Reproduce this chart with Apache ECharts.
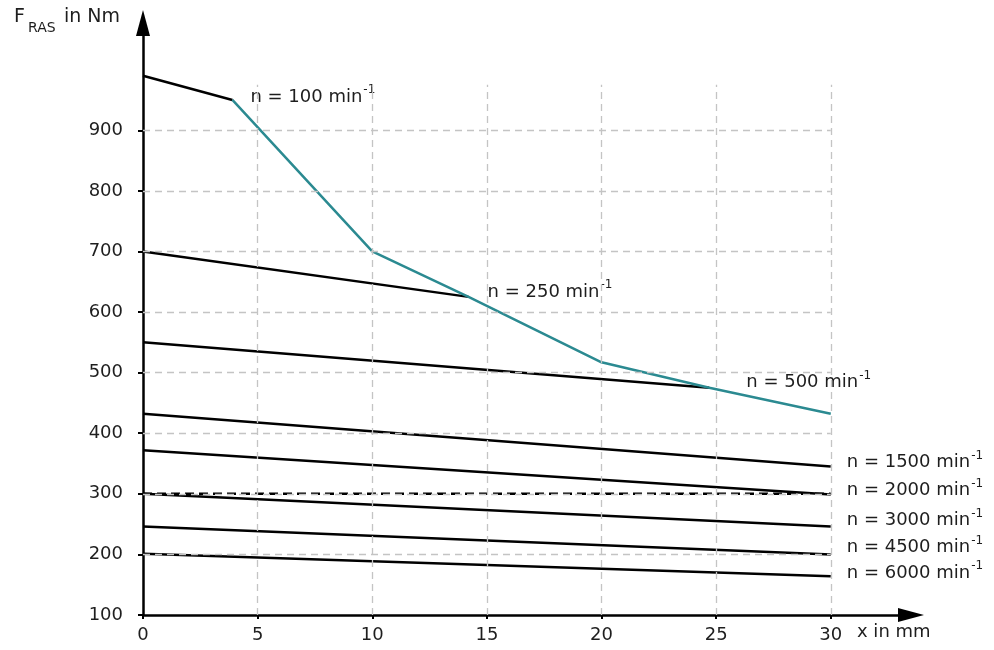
<!DOCTYPE html>
<html><head><meta charset="utf-8">
<script src="https://cdn.jsdelivr.net/npm/echarts@6/dist/echarts.min.js"></script>
<style>html,body{margin:0;padding:0;background:#fff}#c{width:994px;height:650px}</style>
</head><body><div id="c"></div>
<script>
// ticks and grid
const xTicks = [0, 5, 10, 15, 20, 25, 30];
const yTicks = [100, 200, 300, 400, 500, 600, 700, 800, 900];
const gridXValues = [5, 10, 15, 20, 25, 30];
const gridYValues = [200, 300, 400, 500, 600, 700, 800, 900];
const gridYTop = 975;
// curves (x in mm, F in Nm)
const n100X = [0, 3.9],   n100Y = [990, 950];
const limitX = [3.9, 10, 14.2, 20, 24.7, 30], limitY = [950, 700, 625, 517, 475, 432];
const n250X = [0, 14.2],  n250Y = [700, 625];
const n500X = [0, 24.7],  n500Y = [550, 475];
const n1500X = [0, 30],   n1500Y = [432, 345];
const n2000X = [0, 30],   n2000Y = [372, 299];
const ref300X = [0, 30],  ref300Y = [300, 300];
const n3000X = [0, 30],   n3000Y = [300, 246];
const n4500X = [0, 30],   n4500Y = [246, 200];
const n6000X = [0, 30],   n6000Y = [201, 164];
const labelTexts = ['100', '250', '500', '1500', '2000', '3000', '4500', '6000'];

const FONT = 'DejaVu Sans';
const FS = 18;
const TXT = '#1e1e1e';
const TEAL = '#2b8a91';

const rich = {
  t: { fontFamily: FONT, fontSize: FS, color: TXT, lineHeight: 22, verticalAlign: 'bottom' },
  s: { fontFamily: FONT, fontSize: 12, color: TXT, lineHeight: 22, verticalAlign: 'top', padding: [0, 0, 0, 1] }
};

function lineSeries(xs, ys, color, labelTxt, offset, dashed) {
  const s = {
    type: 'line',
    data: xs.map((x, i) => [x, ys[i]]),
    symbol: 'none',
    silent: true,
    lineStyle: { color: color, width: 2.5, type: dashed ? [9, 5] : 'solid' },
    z: color === TEAL ? 4 : 3,
    animation: false
  };
  if (labelTxt) {
    s.endLabel = {
      show: true,
      distance: 0,
      offset: offset,
      formatter: '{t|n = ' + labelTxt + ' min}{s|-1}',
      rich: rich
    };
  }
  return s;
}

const gridLines = [];
gridYValues.forEach(v => gridLines.push([{ coord: [0, v] }, { coord: [30, v] }]));
gridXValues.forEach(v => gridLines.push([{ coord: [v, 100] }, { coord: [v, gridYTop] }]));

const chart = echarts.init(document.getElementById('c'), null, { renderer: 'canvas' });
chart.setOption({
  backgroundColor: '#fff',
  animation: false,
  grid: { left: 143, right: 83, top: 23, bottom: 35 },
  xAxis: {
    type: 'value', min: 0, max: 33.5,
    splitLine: { show: false },
    axisLine: { show: true, lineStyle: { color: '#000', width: 2.5 }, symbol: ['none', 'triangle'], symbolSize: [14, 26] },
    axisTick: { show: true, customValues: xTicks, length: 4, lineStyle: { color: '#000', width: 2 } },
    axisLabel: { show: true, customValues: xTicks, margin: 11, fontFamily: FONT, fontSize: FS, color: TXT }
  },
  yAxis: {
    type: 'value', min: 100, max: 1077,
    splitLine: { show: false },
    axisLine: { show: true, onZero: false, lineStyle: { color: '#000', width: 2.5 }, symbol: ['none', 'triangle'], symbolSize: [14, 26] },
    axisTick: { show: true, customValues: yTicks, length: 5, lineStyle: { color: '#000', width: 2 } },
    axisLabel: { show: true, customValues: yTicks, margin: 20, fontFamily: FONT, fontSize: FS, color: TXT }
  },
  series: [
    {
      type: 'line', data: [], silent: true, z: 1,
      markLine: {
        silent: true, symbol: 'none', animation: false,
        label: { show: false },
        lineStyle: { color: '#c4c4c4', width: 1.3, type: [7, 5] },
        data: gridLines
      }
    },
    lineSeries(n100X, n100Y, '#000', labelTexts[0], [18, -5]),
    lineSeries(limitX, limitY, TEAL, null),
    lineSeries(n250X, n250Y, '#000', labelTexts[1], [19, -7]),
    lineSeries(n500X, n500Y, '#000', labelTexts[2], [37, -7]),
    lineSeries(n1500X, n1500Y, '#000', labelTexts[3], [16, -6]),
    lineSeries(ref300X, ref300Y, '#000', null, null, true),
    lineSeries(n2000X, n2000Y, '#000', labelTexts[4], [16, -6]),
    lineSeries(n3000X, n3000Y, '#000', labelTexts[5], [16, -8]),
    lineSeries(n4500X, n4500Y, '#000', labelTexts[6], [16, -9]),
    lineSeries(n6000X, n6000Y, '#000', labelTexts[7], [16, -5])
  ],
  graphic: [
    { type: 'text', left: 14, top: 8, style: { text: 'F', fontFamily: FONT, fontSize: 19, fill: TXT } },
    { type: 'text', left: 28, top: 21, style: { text: 'RAS', fontFamily: FONT, fontSize: 14, fill: TXT } },
    { type: 'text', left: 64, top: 8, style: { text: 'in Nm', fontFamily: FONT, fontSize: 19, fill: TXT } },
    { type: 'text', left: 857, top: 623, style: { text: 'x in mm', fontFamily: FONT, fontSize: FS, fill: TXT } }
  ]
});
</script>
</body></html>
